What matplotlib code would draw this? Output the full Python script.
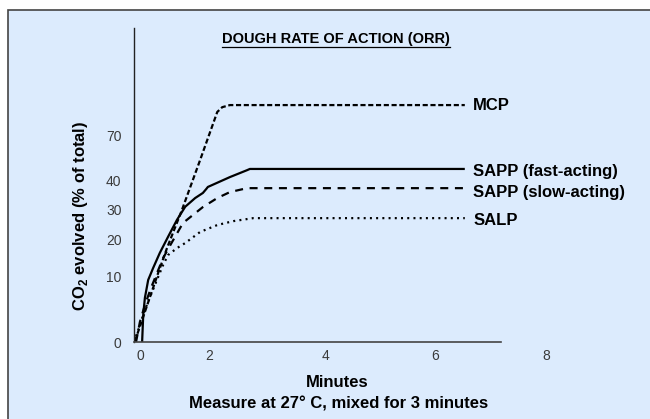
import matplotlib
matplotlib.use("Agg")
import matplotlib.pyplot as plt
from matplotlib.patches import Rectangle
from matplotlib.lines import Line2D

plt.rcParams['font.family'] = ['Liberation Sans', 'DejaVu Sans']
plt.rcParams['mathtext.fontset'] = 'custom'
plt.rcParams['mathtext.rm'] = 'Liberation Sans'
plt.rcParams['mathtext.bf'] = 'Liberation Sans:bold'

# time in minutes, CO2 as height on the (uneven) printed scale
mcp_t = [0.56, 0.98, 1.14, 1.41, 1.74, 2.05, 2.14, 2.28, 6.53]
mcp_y = [0.3, 23.0, 31.3, 44.0, 60.7, 76.7, 78.3, 79.0, 79.0]

fast_t = [0.69, 0.71, 0.74, 0.80, 0.89, 1.01, 1.16, 1.32, 1.47, 1.65, 1.79, 1.85, 1.88,
          2.28, 2.59, 2.64, 6.53]
fast_y = [0.0, 9.0, 14.7, 20.7, 24.7, 29.7, 35.1, 40.7, 45.1, 48.0, 49.7, 51.0, 51.7,
          55.0, 57.3, 57.7, 57.7]

slow_t = [0.58, 0.65, 0.74, 0.85, 0.96, 1.07, 1.20, 1.43, 1.79, 2.05, 2.28, 2.59, 6.53]
slow_y = [0.0, 6.7, 12.3, 18.0, 23.0, 28.0, 32.3, 39.7, 45.0, 48.0, 50.0, 51.3, 51.3]

salp_t = [0.54, 0.62, 0.74, 0.87, 0.98, 1.07, 1.16, 1.32, 1.47, 1.74, 2.05, 2.34, 2.70, 6.53]
salp_y = [0.0, 4.0, 10.7, 16.7, 21.7, 25.7, 29.0, 31.3, 33.0, 36.7, 39.0, 40.3, 41.3, 41.3]

series_names = ["MCP", "SAPP (fast-acting)", "SAPP (slow-acting)", "SALP"]

x_tick_labels = ["0", "2", "4", "6", "8"]
y_tick_labels = ["0", "10", "20", "30", "40", "70"]

# where the printed tick labels sit on the axes
x_tick_pos = [0.65, 1.90, 4.0, 6.0, 8.0]
y_tick_pos = [0.0, 21.7, 34.3, 44.3, 53.7, 69.0]

fig = plt.figure(figsize=(6.5, 4.19), dpi=100)
fig.patch.set_facecolor('white')

# light blue panel with a dark border (runs off the right and bottom)
panel = Rectangle((8 / 650, -0.05), 1.1, 1 - 10 / 419 + 0.05, transform=fig.transFigure,
                  facecolor='#dcebfd', edgecolor='#444444', linewidth=1.2, zorder=0)
fig.add_artist(panel)

ax = fig.add_axes([134 / 650, 77 / 419, 426 / 650, 314 / 419])
ax.set_facecolor('none')
ax.set_xlim(0.543, 8.253)
ax.set_ylim(0, 104.7)

lw = 1.6
ax.plot(mcp_t, mcp_y, color='black', lw=lw, dashes=(2.3, 1.2))
ax.plot(fast_t, fast_y, color='black', lw=lw, solid_capstyle='butt')
ax.plot(slow_t, slow_y, color='black', lw=lw, dashes=(3.6, 3.0))
ax.plot(salp_t, salp_y, color='black', lw=lw, dashes=(0.9, 1.9))

ends = [mcp_y[-1], fast_y[-1], slow_y[-1], salp_y[-1]]
nudge = [0, -2, -3, -2]
for name, yv, dy in zip(series_names, ends, nudge):
    ax.annotate(name, xy=(6.53, yv), xytext=(6, dy), textcoords='offset points',
                ha='left', va='center', fontsize=12, fontweight='bold', annotation_clip=False)

for s in ['top', 'right']:
    ax.spines[s].set_visible(False)
ax.spines['left'].set_color('#222222')
ax.spines['left'].set_linewidth(1.0)
ax.spines['bottom'].set_color('#444444')
ax.spines['bottom'].set_linewidth(1.2)
ax.spines['bottom'].set_bounds(0.543, 7.19)

ax.set_xticks(x_tick_pos)
ax.set_xticklabels(x_tick_labels)
ax.set_yticks(y_tick_pos)
ax.set_yticklabels(y_tick_labels)
ax.tick_params(axis='both', length=0, labelsize=10, labelcolor='#3a3a3a')
ax.tick_params(axis='y', pad=9)
ax.tick_params(axis='x', pad=5)

fig.text(80 / 650, 1 - 216 / 419, r'CO$_\mathbf{2}$ evolved (% of total)', rotation=90,
         ha='center', va='center', fontsize=12, fontweight='bold')
fig.text(337 / 650, 1 - 382 / 419, 'Minutes', ha='center', va='center',
         fontsize=12, fontweight='bold')
fig.text(339 / 650, 1 - 404 / 419, 'Measure at 27° C, mixed for 3 minutes', ha='center',
         va='center', fontsize=12, fontweight='bold')

title = fig.text(336 / 650, 1 - 39 / 419, 'DOUGH RATE OF ACTION (ORR)', ha='center',
                 va='center', fontsize=10.5, fontweight='bold')

# underline the title
fig.canvas.draw()
bb = title.get_window_extent()
W, H = fig.bbox.width, fig.bbox.height
uy = (bb.y0 - 1.0) / H
fig.add_artist(Line2D([bb.x0 / W, bb.x1 / W], [uy, uy], transform=fig.transFigure,
                      color='black', lw=0.9))

fig.savefig('out.png', dpi=100)
